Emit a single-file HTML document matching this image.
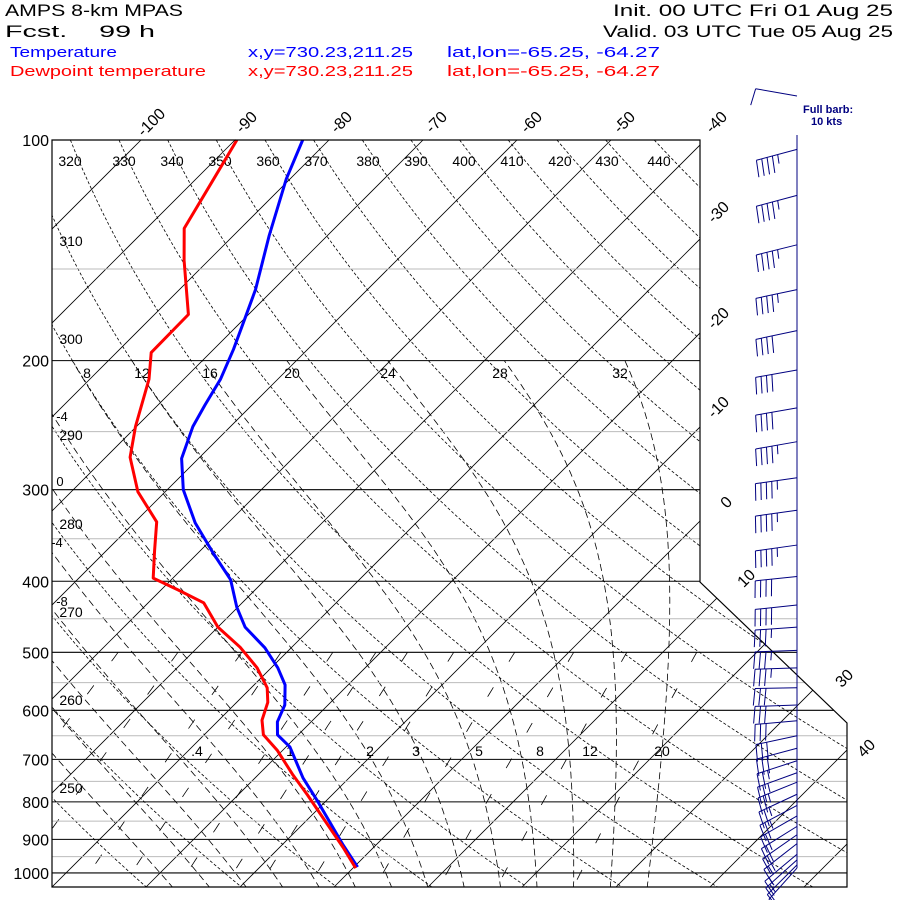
<!DOCTYPE html>
<html><head><meta charset="utf-8"><style>
html,body{margin:0;padding:0;background:#fff;}
svg{display:block;}
text{font-family:"Liberation Sans",sans-serif;}
.mono{font-family:"Liberation Mono",monospace;}
</style></head><body>
<svg id="chart" width="900" height="900" viewBox="0 0 900 900" xmlns="http://www.w3.org/2000/svg">
<rect x="0" y="0" width="900" height="900" fill="#fff"/>
<defs><clipPath id="plotclip"><polygon points="52,140 700,140 700,582 847,723 847,887 52,887"/></clipPath></defs>
<g class="mono" font-size="17">
<text x="5" y="16" textLength="178" lengthAdjust="spacingAndGlyphs">AMPS 8-km MPAS</text>
<text x="5" y="37" textLength="150" lengthAdjust="spacingAndGlyphs" xml:space="preserve">Fcst.    99 h</text>
<text x="613" y="16" textLength="280" lengthAdjust="spacingAndGlyphs">Init. 00 UTC Fri 01 Aug 25</text>
<text x="603" y="37" textLength="290" lengthAdjust="spacingAndGlyphs">Valid. 03 UTC Tue 05 Aug 25</text>
<g fill="#0000ff" font-size="15">
<text x="10" y="57" textLength="107" lengthAdjust="spacingAndGlyphs">Temperature</text>
<text x="248" y="57" textLength="165" lengthAdjust="spacingAndGlyphs">x,y=730.23,211.25</text>
<text x="447" y="57" textLength="213" lengthAdjust="spacingAndGlyphs">lat,lon=-65.25, -64.27</text>
</g>
<g fill="#ff0000" font-size="15">
<text x="10" y="76" textLength="196" lengthAdjust="spacingAndGlyphs">Dewpoint temperature</text>
<text x="248" y="76" textLength="165" lengthAdjust="spacingAndGlyphs">x,y=730.23,211.25</text>
<text x="447" y="76" textLength="213" lengthAdjust="spacingAndGlyphs">lat,lon=-65.25, -64.27</text>
</g>
</g>
<g id="grid" clip-path="url(#plotclip)"></g>
<g id="hlines"></g>
<g id="labels"></g>
<g id="profiles"></g>
<polygon points="52,140 700,140 700,582 847,723 847,887 52,887" fill="none" stroke="#000" stroke-width="1.2"/>
<g id="barbs"></g>
<g font-family="'Liberation Serif',serif" font-weight="bold" font-size="11" fill="#000080">
<text x="803" y="113">Full barb:</text>
<text x="811" y="125">10 kts</text>
</g>
</svg>
<script>
// ---- data ----
const pressureLevels = [100,200,300,400,500,600,700,800,900,1000];
const grayLevels = [150,250,350,450,550,650,750,850,950];
const isothermVals = [-160,-150,-140,-130,-120,-110,-100,-90,-80,-70,-60,-50,-40,-30,-20,-10,0,10,20,30,40,50,60];
const thetaVals = [240,250,260,270,280,290,300,310,320,330,340,350,360,370,380,390,400,410,420,430,440,450,460];
const thetaWVals = [-20,-16,-12,-8,-4,0,4,8,12,16,20,24,28,32];
const mixVals = [0.1,0.2,0.4,0.6,1,1.5,2,3,5,8,12,20];
const tempP = [100,113,135,160,179,193,212,230,246,272,300,333,366,398,434,462,493,525,554,590,622,648,673,742,795,855,916,982];
const tempT = [-82.8,-80.4,-76.2,-71.9,-69.5,-67.9,-66.1,-65,-64,-61.8,-58.3,-53.5,-48.4,-43.7,-40.1,-37.1,-32.8,-29.3,-26.7,-24.6,-23.6,-22.2,-19.6,-14.9,-11.1,-7.2,-3.5,0.4];
const dewP = [100,114,132,146,173,195,212,246,271,302,332,363,396,411,428,462,492,525,559,585,619,648,680,735,783,855,922,985];
const dewT = [-89.8,-88,-86,-82.6,-76.4,-76.3,-73.7,-70.1,-67.4,-62.9,-57.7,-54.9,-52.1,-48.2,-44.1,-40,-35.5,-31.5,-28.3,-26.7,-25.4,-23.7,-20.6,-16.3,-12.6,-7.6,-3.3,0.3];
const barbP = [103,119,139,160,182,206,232,258,289,320,357,394,431,462,497,525,559,590,620,650,676,703,730,752,781,809,836,864,887,912,943,960,975,985];
const barbSpd = [45,45,45,45,40,40,40,45,45,45,45,40,40,35,35,35,30,30,30,30,30,25,25,25,25,25,20,20,20,15,15,15,10,10];
const barbAng = [15,15,14,12,12,10,10,10,8,8,8,6,6,4,2,2,1,2,5,12,15,18,20,22,25,28,30,32,35,38,40,42,45,48];
const thetaTopLabels = ["320","330","340","350","360","370","380","390","400","410","420","430","440"];
const thetaLeftLabels = ["310","300","290","280","270","260","250"];
const isoTopLabels = ["-100","-90","-80","-70","-60","-50","-40"];
const isoRightLabels = ["-30","-20","-10","0","10","30","40"];
const moistLabels = ["8","12","16","20","24","28","32"];
const mixLabels = [".4","1","2","3","5","8","12","20"];
const pLabels = ["100","200","300","400","500","600","700","800","900","1000"];

// ---- axes ----
const NS = "http://www.w3.org/2000/svg";
const Y = p => 140 + 318.3*Math.log(p/100);
const X = (T,y) => 705 + 9.4*(T+40) - (y-140);
function mk(tag, attrs, parent){ const e=document.createElementNS(NS,tag); for(const k in attrs) e.setAttribute(k,attrs[k]); parent.appendChild(e); return e; }
const grid=document.getElementById('grid'), hl=document.getElementById('hlines'), lab=document.getElementById('labels'), prof=document.getElementById('profiles'), bg=document.getElementById('barbs');
function pts(arr){ return arr.map(a=>a[0].toFixed(1)+','+a[1].toFixed(1)).join(' '); }

isothermVals.forEach(T=>{
  const e=mk('line',{x1:X(T,140),y1:140,x2:X(T,887),y2:887,stroke:'#000','stroke-width':0.8},grid);
  
  
});
thetaVals.forEach(th=>{
  const a=[]; for(let p=100;p<=1050;p+=5){ const y=Y(p); const T=th*Math.pow(p/1000,0.286)-273.15; a.push([X(T,y),y]); }
  const e=mk('polyline',{points:pts(a),fill:'none',stroke:'#000','stroke-width':0.8,'stroke-dasharray':'3,2'},grid);
  
  
});
function es(Tc){ return 6.112*Math.exp(17.67*Tc/(Tc+243.5)); }
function dTdp(T,p){ const e=es(T-273.15); const rs=0.622*e/(p-e); const L=2.501e6,Rd=287.04,cp=1005.7; return (Rd*T+L*rs)/(p*(cp+L*L*rs*0.622/(Rd*T*T))); }
thetaWVals.forEach(tw=>{
  const a=[]; let T=tw+273.15; const dp=2;
  let T2=T; const down=[]; for(let p=1000;p<1050;p+=dp){ T2+=dTdp(T2,p)*dp; down.push([p+dp,T2]); }
  const up=[[1000,T]]; for(let p=1000;p>200;p-=dp){ T-=dTdp(T,p)*dp; up.push([p-dp,T]); }
  down.reverse().concat(up).forEach(q=>{ const y=Y(q[0]); a.push([X(q[1]-273.15,y),y]); });
  const e=mk('polyline',{points:pts(a),fill:'none',stroke:'#000','stroke-width':0.8,'stroke-dasharray':'7,4'},grid);
  
  
});
mixVals.forEach(w=>{
  const a=[]; for(let p=500;p<=1050;p+=10){ const e=w*p/(622+w); const l=Math.log(e/6.112); const T=243.5*l/(17.67-l); const y=Y(p); a.push([X(T,y),y]); }
  const e=mk('polyline',{points:pts(a),fill:'none',stroke:'#000','stroke-width':0.8,'stroke-dasharray':'11,30'},grid);
  
  
});
function rightEdge(y){ if(y<=582) return 700; return Math.max(797, Math.min(847, 700+(y-582)*1.043)); }
grayLevels.forEach(p=>{ const y=Y(p);
  const e=mk('line',{x1:52,y1:y,x2:rightEdge(y),y2:y,stroke:'#bbb','stroke-width':1},hl);
  
  
});
pressureLevels.forEach((p,i)=>{ const y=Y(p);
  const e=mk('line',{x1:52,y1:y,x2:rightEdge(y),y2:y,stroke:'#000','stroke-width':1.1},hl);
  
  
  const t=mk('text',{x:49,y:y+6,'text-anchor':'end','font-size':16},lab); t.textContent=pLabels[i];
  
  
});
function addText(s,x,y,size,rot,name){
  const t=mk('text',{x:x,y:y,'text-anchor':'middle','font-size':size},lab);
  if(rot) t.setAttribute('transform','rotate('+rot+' '+x+' '+y+')');
  t.textContent=s;
  
  
}
const thTopX=[70,124,172,220,268,316,368,416,464,512,560,607,659];
thetaTopLabels.forEach((s,i)=>addText(s,thTopX[i],166,14,0,'theta-label'));
const thLeftY=[246,344,440,529,617,705,793];
thetaLeftLabels.forEach((s,i)=>addText(s,71,thLeftY[i],14,0,'theta-label'));
const isoTopX=[155,250,345,440,535,628,720];
isoTopLabels.forEach((s,i)=>addText(s,isoTopX[i],126,16,-45,'isotherm-label'));
const isoRightXY=[[722,216],[722,322],[722,411],[730,506],[750,582],[848,682],[870,752]];
isoRightLabels.forEach((s,i)=>addText(s,isoRightXY[i][0],isoRightXY[i][1],16,-45,'isotherm-label'));
const moistX=[87,142,210,292,388,500,620];
moistLabels.forEach((s,i)=>addText(s,moistX[i],378,14,0,'moist-adiabat-label'));
[["-4",62,421],["0",60,486],["-4",57,547],["-8",62,606]].forEach(a=>addText(a[0],a[1],a[2],13,0,'moist-adiabat-label'));
const mixX=[197,290,370,416,479,540,590,662];
mixLabels.forEach((s,i)=>addText(s,mixX[i],756,14,0,'mixing-ratio-label'));

function profile(P,T,color,name){
  const a=P.map((p,i)=>{ const y=Y(p); return [X(T[i],y),y]; });
  const e=mk('polyline',{points:pts(a),fill:'none',stroke:color,'stroke-width':3,'stroke-linejoin':'round'},prof);
  
  
}
profile(tempP,tempT,'#0000ff','temperature-line');
profile(dewP,dewT,'#ff0000','dewpoint-line');

const staff=mk('line',{x1:797,y1:135,x2:797,y2:868,stroke:'#000080','stroke-width':1},bg);


function barb(y,spd,ang,name){
  const g=mk('g',{stroke:'#000080','stroke-width':1,fill:'none'},bg);
  
  
  const r=ang*Math.PI/180, L=42; const ux=-Math.cos(r), uy=Math.sin(r);
  const tx=797+L*ux, ty=y+L*uy;
  mk('line',{x1:797,y1:y,x2:tx,y2:ty},g);
  const nx=uy, ny=-ux;
  let full=Math.floor(spd/10), half=(spd%10)>=5;
  let k=0;
  for(let i=0;i<full;i++,k++){ const px=tx-k*5.5*ux, py=ty-k*5.5*uy; mk('line',{x1:px,y1:py,x2:px+17*nx+2*ux,y2:py+17*ny+2*uy},g); }
  if(half){ const px=tx-k*5.5*ux, py=ty-k*5.5*uy; mk('line',{x1:px,y1:py,x2:px+9*nx+1*ux,y2:py+9*ny+1*uy},g); }
}
barb(96,10,-10,'legend-barb');
barbP.forEach((p,i)=>barb(Y(p),barbSpd[i],barbAng[i],'wind-barb'));
</script>
</body></html>
